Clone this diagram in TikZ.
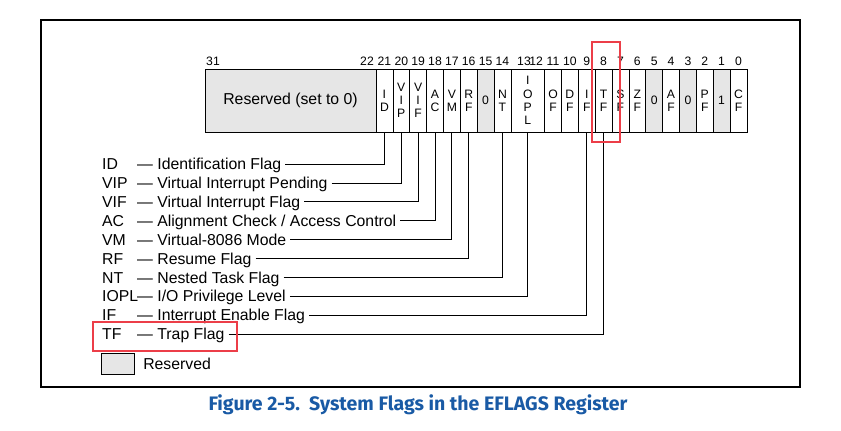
\documentclass[tikz,border=0pt]{standalone}
\usepackage{fontspec}
\setmainfont{Liberation Sans}
\newfontfamily\captionfont{Fira Sans}
\usetikzlibrary{positioning}
\definecolor{resgray}{HTML}{E6E6E6}
\definecolor{hired}{RGB}{236,62,72}
\definecolor{capblue}{RGB}{25,90,165}
\tikzset{
  bitcell/.style={draw,line width=0.7pt,minimum width=16.86pt,minimum height=63pt,inner sep=0pt,
    align=center,font=\fontsize{12.2}{13.2}\selectfont},
  bitno/.style={font=\fontsize{12.2}{13}\selectfont,text height=8.7pt,text depth=0pt,inner sep=0pt},
  abbr/.style={anchor=west,font=\fontsize{15.8}{18}\selectfont,text height=11.2pt,text depth=0pt,
    inner xsep=4pt,inner ysep=0pt},
  leader/.style={line width=0.8pt},
  hilite/.style={draw=hired,line width=2.2pt},
}
\begin{document}
\begin{tikzpicture}[x=1pt,y=-1pt]
  \useasboundingbox (0,0) rectangle (841,431);
  \draw[line width=1.2pt] (41,20) rectangle (800,387);
  \node[bitcell,fill=resgray,minimum width=171pt,font=\fontsize{15.8}{18}\selectfont] (cres) at (290.5,100.5) {Reserved (set to 0)};
  \foreach \b/\t/\f in {21/{I\\D}/white,20/{V\\I\\P}/white,19/{V\\I\\F}/white,18/{A\\C}/white,
      17/{V\\M}/white,16/{R\\F}/white,15/0/resgray,14/{N\\T}/white,11/{O\\F}/white,10/{D\\F}/white,
      9/{I\\F}/white,8/{T\\F}/white,7/{S\\F}/white,6/{Z\\F}/white,5/0/resgray,4/{A\\F}/white,
      3/0/resgray,2/{P\\F}/white,1/1/resgray,0/{C\\F}/white} {
    \node[bitcell,fill=\f] (c\b) at ({376+(21.5-\b)*16.86},100.5) {\t};
  }
  \node[bitcell,minimum width=33.72pt] (ciopl) at ({376+9*16.86},100.5) {I\\O\\P\\L};
  \node[bitno] (n31) at (213,60.7) {31};
  \node[bitno] (n22) at (367,60.7) {22};
  \node[bitno] (n13) at (524,60.7) {13};
  \foreach \b in {21,20,19,18,17,16,15,14,12,11,10,9,8,7,6,5,4,3,2,1,0} {
    \node[bitno] (n\b) at ({376+(21.5-\b)*16.86},60.7) {\b};
  }
  \foreach[count=\i,evaluate={164+18.9*(\i-1)} as \y] \a/\t/\c in {ID/Identification Flag/c21,
      VIP/Virtual Interrupt Pending/c20,VIF/Virtual Interrupt Flag/c19,
      AC/{Alignment Check / Access Control}/c18,VM/Virtual-8086 Mode/c17,RF/Resume Flag/c16,
      NT/Nested Task Flag/c14,IOPL/{I/O Privilege Level}/ciopl,IF/Interrupt Enable Flag/c9,
      TF/Trap Flag/c8} {
    \node[abbr] (a\i) at (98,\y) {\a};
    \node[abbr] (l\i) at (133,\y) {— \t};
    \draw[leader] (l\i.east) -| (\c.south);
  }
  \node[draw,line width=0.7pt,fill=resgray,minimum width=32.6pt,minimum height=20.7pt,inner sep=0pt] (legbox) at (118,363.7) {};
  \node[abbr,right=4.4pt of legbox] (legtext) {Reserved};
  \draw[hilite] (592.3,41.7) rectangle (620,142.3);
  \draw[hilite] (92.7,321.7) rectangle (236.7,350.7);
  \node[font=\captionfont\bfseries\fontsize{19.5}{22}\selectfont,text=capblue] (caption) at (418,405)
    {Figure 2-5.\ \ System Flags in the EFLAGS Register};
\end{tikzpicture}
\end{document}
